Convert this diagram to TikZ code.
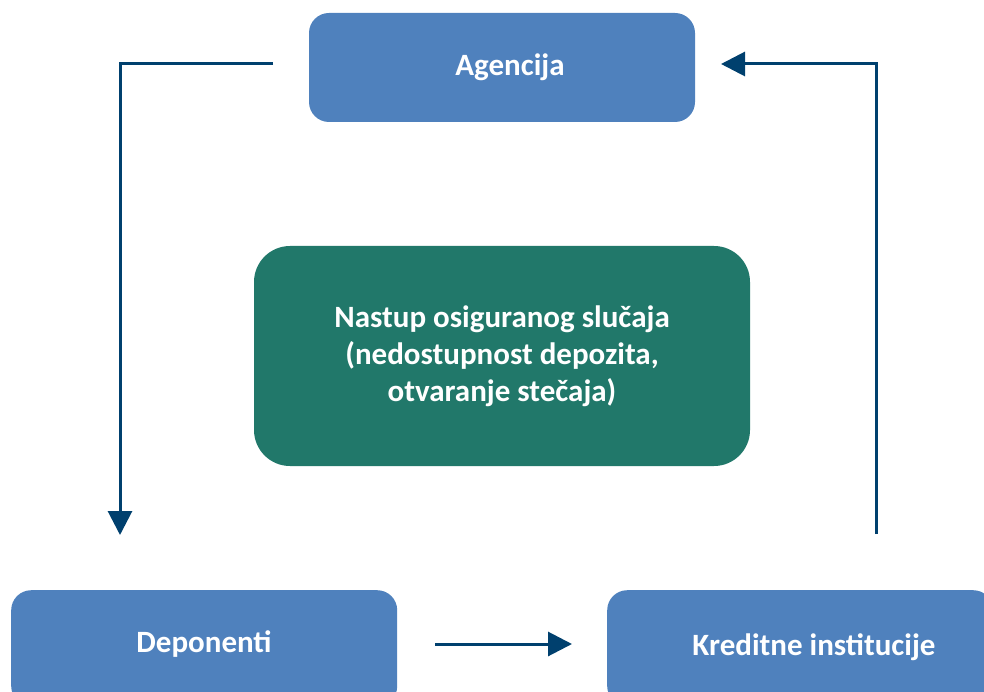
\documentclass[tikz,border=0pt]{standalone}
\usepackage{fontspec}
\setmainfont{Carlito}
\usetikzlibrary{arrows.meta}
\definecolor{boxblue}{HTML}{4F81BD}
\definecolor{boxgreen}{HTML}{21786A}
\definecolor{arrowblue}{HTML}{00406E}
\tikzset{
  lbl/.style={text=white, font=\fontsize{31}{37}\selectfont\bfseries, inner sep=0pt},
  bluebox/.style={fill=boxblue, rounded corners=20pt, inner sep=0pt},
  greenbox/.style={fill=boxgreen, rounded corners=36pt, text=white, font=\fontsize{31}{37}\selectfont\bfseries, align=center, inner sep=0pt},
  conn/.style={draw=arrowblue, line width=3pt, -{Triangle[width=24pt,length=24pt]}}
}
\begin{document}
\begin{tikzpicture}[x=1pt,y=-1pt]
\useasboundingbox (0,0) rectangle (984,692);
\node[bluebox, minimum width=386pt, minimum height=109pt] (ag) at (502,67.5) {};
\node[lbl] (agtxt) at (510,67) {Agencija};
\node[greenbox, minimum width=496pt, minimum height=220pt] (gr) at (502,356) {Nastup osiguranog slučaja\\(nedostupnost depozita,\\otvaranje stečaja)};
\node[bluebox, minimum width=386pt, minimum height=116pt, anchor=north west] (dep) at (11,590) {};
\node[lbl] (deptxt) at (204,644) {Deponenti};
\node[bluebox, minimum width=386pt, minimum height=116pt, anchor=north west] (kred) at (607,590) {};
\node[lbl] (kredtxt) at (814,647) {Kreditne institucije};
\coordinate (a1) at (273,64);
\coordinate (a2) at (120,64);
\coordinate (a3) at (120,535);
\coordinate (b1) at (876,534);
\coordinate (b2) at (876,64);
\coordinate (b3) at (721,64);
\coordinate (c1) at (435,644);
\coordinate (c2) at (572,644);
\draw[conn] (a1) -- (a2) -- (a3);
\draw[conn] (b1) -- (b2) -- (b3);
\draw[conn] (c1) -- (c2);
\end{tikzpicture}
\end{document}
